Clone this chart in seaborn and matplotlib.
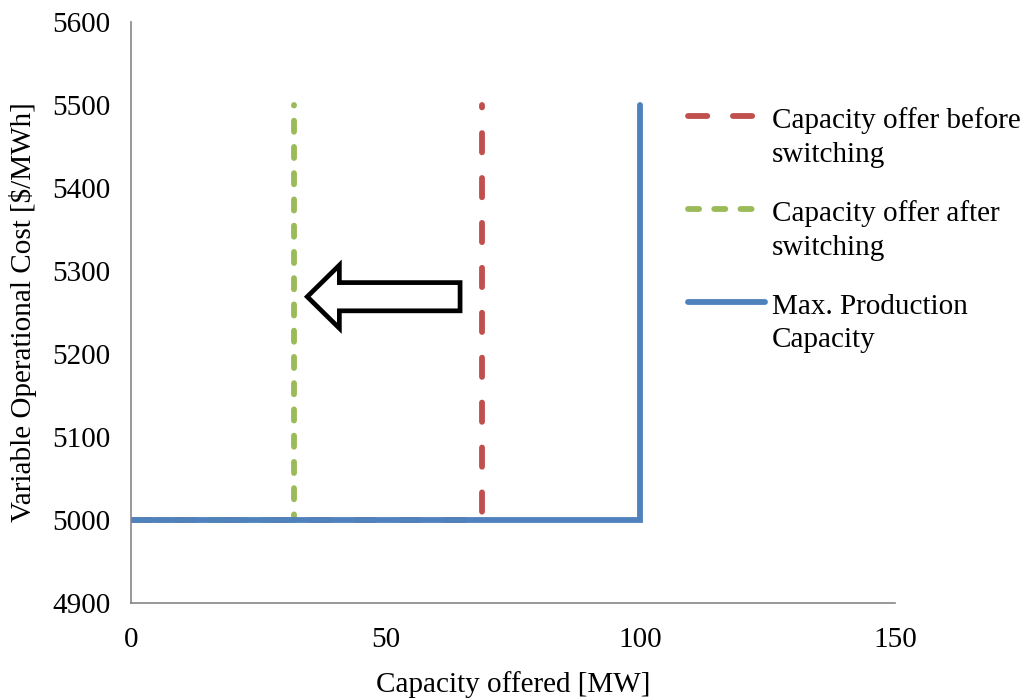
import numpy as np
import matplotlib
matplotlib.use("Agg")
import matplotlib.pyplot as plt
import seaborn as sns
from matplotlib.patches import FancyArrow
from matplotlib.legend_handler import HandlerLine2D

# step curves: (capacity, cost)
before_x = [0, 69, 69]
before_y = [5000, 5000, 5500]
after_x = [0, 32, 32]
after_y = [5000, 5000, 5500]
maxcap_x = [0, 100, 100]
maxcap_y = [5000, 5000, 5500]

labels = ["Capacity offer before\nswitching",
          "Capacity offer after\nswitching",
          "Max. Production\nCapacity"]
colors = ["#C0504D", "#9BBB59", "#4F81BD"]

sns.set_style("white")
plt.rcParams["font.family"] = ["Liberation Serif", "DejaVu Serif"]
plt.rcParams["text.color"] = "black"
plt.rcParams["axes.labelcolor"] = "black"
plt.rcParams["xtick.labelcolor"] = "black"
plt.rcParams["ytick.labelcolor"] = "black"

FS = 21

fig = plt.figure(figsize=(10.27, 7), dpi=100)
ax = fig.add_axes([0.1276, 0.1386, 0.7439, 0.83])

lw = 4.2
sns.lineplot(x=before_x, y=before_y, sort=False, estimator=None, ax=ax,
             color=colors[0], lw=lw, label=labels[0],
             linestyle=(0, (3.3, 4.4)), dash_capstyle="round")
sns.lineplot(x=after_x, y=after_y, sort=False, estimator=None, ax=ax,
             color=colors[1], lw=lw, label=labels[1],
             linestyle=(0, (1.9, 2.6)), dash_capstyle="round")
sns.lineplot(x=maxcap_x, y=maxcap_y, sort=False, estimator=None, ax=ax,
             color=colors[2], lw=lw, label=labels[2],
             solid_capstyle="round", solid_joinstyle="miter")

# shift arrow
ax.add_patch(FancyArrow(64.6, 5269, -30.0, 0, width=34, head_width=76,
                        head_length=6.3, length_includes_head=True,
                        fc="white", ec="black", lw=3.4, joinstyle="miter",
                        zorder=5))

ax.set_xlim(0, 150)
ax.set_ylim(4900, 5600)
ax.set_xticks([0, 50, 100, 150])
ax.set_yticks(np.arange(4900, 5601, 100))
ax.set_xlabel("Capacity offered [MW]", fontsize=FS, labelpad=13)
ax.set_ylabel("Variable Operational Cost [\\$/MWh]", fontsize=FS, labelpad=11)
ax.tick_params(axis="both", labelsize=FS, length=5, width=1.2,
               color="#868686", pad=10, direction="out")
ax.tick_params(axis="x", pad=12)
for s in ["top", "right"]:
    ax.spines[s].set_visible(False)
for s in ["left", "bottom"]:
    ax.spines[s].set_color("#868686")
    ax.spines[s].set_linewidth(1.2)


class FirstLineHandler(HandlerLine2D):
    def create_artists(self, legend, orig_handle, xdescent, ydescent,
                       width, height, fontsize, trans):
        arts = super().create_artists(legend, orig_handle, xdescent, ydescent,
                                      width, height, fontsize, trans)
        for a in arts:
            a.set_ydata(np.asarray(a.get_ydata()) + 0.72 * fontsize)
        return arts


handles, labs = ax.get_legend_handles_labels()
leg = ax.legend(handles, labs, loc="upper left", bbox_to_anchor=(0.670, 0.847),
                bbox_transform=fig.transFigure, frameon=False, fontsize=FS,
                handlelength=2.64, handletextpad=0.24, labelspacing=1.12,
                borderpad=0, borderaxespad=0,
                handler_map={h: FirstLineHandler() for h in handles})
for t in leg.get_texts():
    t.set_linespacing(1.38)

fig.savefig("out.png", dpi=100)
